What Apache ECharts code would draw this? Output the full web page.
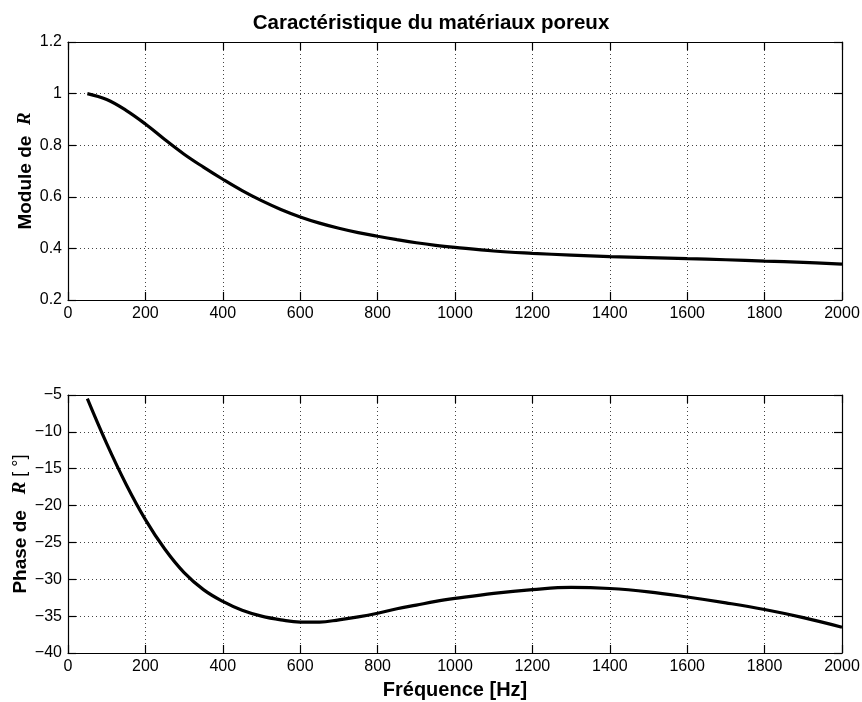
<!DOCTYPE html>
<html>
<head>
<meta charset="utf-8">
<script src="https://cdn.jsdelivr.net/npm/echarts@6/dist/echarts.min.js"></script>
<style>html,body{margin:0;padding:0;background:#fff}#c{width:862px;height:702px}</style>
</head>
<body>
<div id="c"></div>
<script>
// Data
const freqTop = [50,100,150,200,250,300,350,400,450,500,550,600,650,700,750,800,850,900,950,1000,1100,1200,1300,1400,1500,1600,1700,1800,1900,2000];
const moduleR = [1.0,0.977,0.935,0.882,0.822,0.765,0.715,0.668,0.624,0.585,0.551,0.522,0.498,0.478,0.461,0.447,0.434,0.422,0.412,0.404,0.390,0.381,0.374,0.368,0.364,0.360,0.356,0.351,0.346,0.339];
const freqBot = [50,100,150,200,250,300,350,400,450,500,550,600,650,700,750,800,850,900,950,1000,1100,1200,1300,1400,1500,1600,1700,1800,1900,2000];
const phaseR = [-5.5,-11.6,-17.1,-21.9,-25.9,-29.1,-31.4,-33.0,-34.2,-35.0,-35.5,-35.8,-35.8,-35.5,-35.1,-34.6,-34.0,-33.5,-33.0,-32.6,-31.9,-31.4,-31.1,-31.25,-31.7,-32.4,-33.2,-34.1,-35.2,-36.5];
const titleText = 'Caractéristique du matériaux poreux';
const xName = 'Fréquence [Hz]';

const FONT = 'Liberation Sans, Arial, Helvetica, sans-serif';
const chart = echarts.init(document.getElementById('c'), null, {renderer:'canvas'});

const gridDot = {show:true, lineStyle:{color:'#444', width:1, type:[1,3]}};
const axLine = {show:true, onZero:false, lineStyle:{color:'#000', width:1.2}};
const tick = {show:true, inside:true, length:8, lineStyle:{color:'#000', width:1.2}};
const lbl = {color:'#000', fontSize:16, fontFamily:FONT, formatter: v => String(v).replace('-', '\u2212')};

function xMain(gi, withName){
  return {type:'value', gridIndex:gi, min:0, max:2000, interval:200, position:'bottom',
    axisLine:axLine, axisTick:tick, splitLine:gridDot,
    axisLabel:Object.assign({margin:6}, lbl),
    name: withName ? xName : '', nameLocation:'middle', nameGap:27, nameMoveOverlap:false,
    nameTextStyle:{color:'#000', fontSize:20, fontWeight:'bold', fontFamily:FONT}};
}
function xMirror(gi){
  return {type:'value', gridIndex:gi, min:0, max:2000, interval:200, position:'top',
    axisLine:axLine, axisTick:tick, splitLine:{show:false}, axisLabel:{show:false}};
}
function yMain(gi, min, max, interval, name, gap){
  return {type:'value', gridIndex:gi, min, max, interval, position:'left',
    axisLine:axLine, axisTick:tick, splitLine:gridDot,
    axisLabel:Object.assign({margin:6}, lbl),
    name, nameLocation:'middle', nameGap:gap, nameRotate:90, nameMoveOverlap:false,
    nameTextStyle:{color:'#000', fontSize:19, fontWeight:'bold', fontFamily:FONT,
      rich:{
        b:{fontSize:19, fontWeight:'bold', fontFamily:FONT, color:'#000'},
        r:{fontSize:19, fontWeight:'bold', fontStyle:'italic', fontFamily:'Liberation Serif, DejaVu Serif, serif', color:'#000'},
        n:{fontSize:18, fontWeight:'normal', fontFamily:FONT, color:'#000'}
      }}};
}
function yMirror(gi, min, max, interval){
  return {type:'value', gridIndex:gi, min, max, interval, position:'right',
    axisLine:axLine, axisTick:tick, splitLine:{show:false}, axisLabel:{show:false}};
}

chart.setOption({
  animation:false,
  backgroundColor:'#fff',
  title:{text:titleText, left:'center', top:8,
    textStyle:{color:'#000', fontSize:20.5, fontWeight:'bold', fontFamily:FONT}},
  grid:[
    {left:68, right:20, top:42, height:258, outerBoundsMode:'none', containLabel:false},
    {left:68, right:20, top:395, height:258, outerBoundsMode:'none', containLabel:false}
  ],
  xAxis:[xMain(0,false), xMirror(0), xMain(1,true), xMirror(1)],
  yAxis:[
    yMain(0, 0.2, 1.2, 0.2, '{b|Module de  }{r|R}', 33),
    yMirror(0, 0.2, 1.2, 0.2),
    yMain(1, -40, -5, 5, '{b|Phase de   }{r|R}{n| [ °]}', 38),
    yMirror(1, -40, -5, 5)
  ],
  series:[
    {type:'line', xAxisIndex:0, yAxisIndex:0, data:freqTop.map((f,i)=>[f,moduleR[i]]),
      smooth:0.4, showSymbol:false, lineStyle:{color:'#000', width:3.2}},
    {type:'line', xAxisIndex:2, yAxisIndex:2, data:freqBot.map((f,i)=>[f,phaseR[i]]),
      smooth:0.4, showSymbol:false, lineStyle:{color:'#000', width:3.2}}
  ]
});
</script>
</body>
</html>
